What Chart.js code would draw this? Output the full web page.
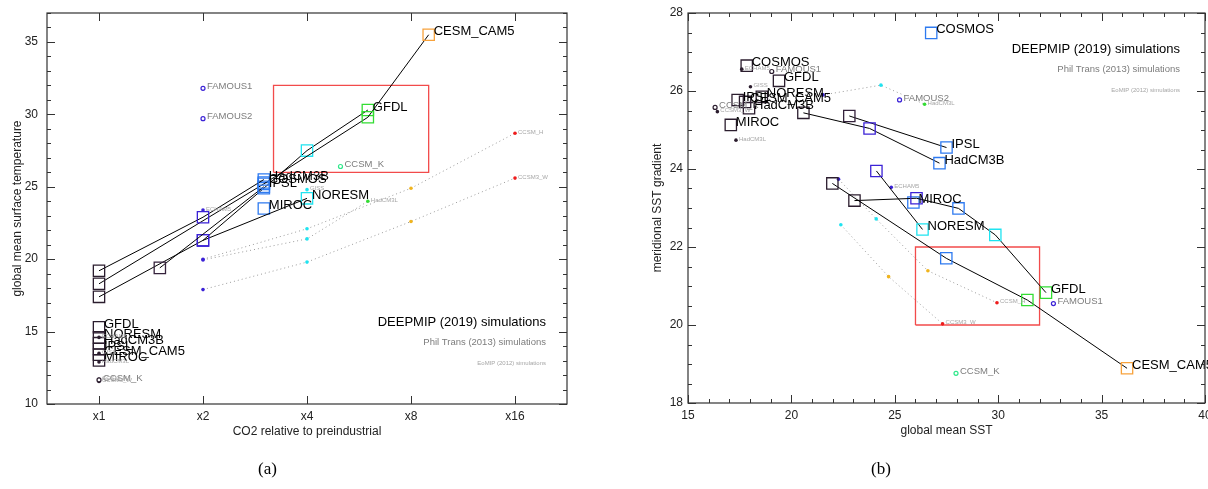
<!DOCTYPE html>
<html>
<head>
<meta charset="utf-8">
<script src="https://cdn.jsdelivr.net/npm/chart.js@4.4.1/dist/chart.umd.min.js"></script>
<style>
html, body { margin: 0; padding: 0; background: #fff; overflow: hidden; }
#wrap { position: relative; width: 1208px; height: 489px; overflow: hidden; }
canvas { position: absolute; top: 0; }
#chartA { left: 0; }
#chartB { left: 604px; }
.cap { position: absolute; top: 459px; font: 17px "Liberation Serif", "Times New Roman", serif; color: #000; }
</style>
</head>
<body>
<div id="wrap">
  <canvas id="chartA" width="604" height="489"></canvas>
  <canvas id="chartB" width="620" height="489"></canvas>
  <div class="cap" style="left:258px">(a)</div>
  <div class="cap" style="left:871px">(b)</div>
</div>
<script>
const FONT = '"Liberation Sans", Arial, Helvetica, sans-serif';

// ---------- panel (a): CO2 multiple vs global mean surface temperature ----------
const co2Ticks = [1, 2, 4, 8, 16];
const tempTicks = [10, 15, 20, 25, 30, 35];

// DeepMIP (2019) Eocene runs
const hadcm3bCO2 = [1, 2, 3];        const hadcm3bT = [19.2, 22.9, 25.5];
const cesmCO2    = [1, 3, 6, 9];     const cesmT    = [18.3, 25.2, 29.8, 35.5];
const gfdlCO2    = [1, 2, 3, 4, 6];  const gfdlT    = [17.4, 21.3, 24.9, 27.5, 30.3];
const ipslCO2    = [1.5, 3];         const ipslT    = [19.4, 25.0];
const noresmCO2  = [2, 4];           const noresmT  = [21.3, 24.2];
const mirocCO2   = [3];              const mirocT   = [23.5];
const cosmosCO2  = [3];              const cosmosT  = [25.3];

// DeepMIP preindustrial controls (all at x1)
const piNamesA = ['GFDL', 'NORESM', 'HadCM3B', 'IPSL', 'CESM_CAM5', 'MIROC'];
const piTempA  = [15.3, 14.6, 14.2, 13.8, 13.4, 13.0];

// Phil Trans (2013)
const philNamesA = ['FAMOUS1', 'FAMOUS2', 'CCSM_K', 'CCSM_K'];
const philCO2A   = [2, 2, 5, 1];
const philTempA  = [31.8, 29.7, 26.4, 11.66];

// EoMIP (2012)
const ccsmhCO2   = [2, 4, 8, 16];  const ccsmhT   = [20.0, 22.1, 24.9, 28.7];
const ccsm3wCO2  = [2, 4, 8, 16];  const ccsm3wT  = [17.9, 19.8, 22.6, 25.6];
const hadcm3lCO2 = [2, 4, 6];      const hadcm3lT = [19.95, 21.4, 24.0];
const eoPtNamesA = ['ECHAM5', 'GISS', 'CCSM_H', 'CCSM3_W', 'HadCM3L', 'ECHAM5', 'GISS'];
const eoPtCO2A   = [2, 4, 1, 1, 1, 1, 1];
const eoPtTempA  = [23.4, 24.8, 11.7, 11.55, 12.9, 14.6, 13.5];

// box of interest
const boxCO2 = [3.2, 9];
const boxT = [26, 32];

// ---------- panel (b): global mean SST vs meridional SST gradient ----------
const sstTicks = [15, 20, 25, 30, 35, 40];
const gradTicks = [18, 20, 22, 24, 26, 28];

// DeepMIP Eocene runs (lvl = CO2 multiple)
const hadcm3bSST = [20.58, 23.78, 27.16];            const hadcm3bGrad = [25.44, 25.04, 24.15];        const hadcm3bLvl = [1, 2, 3];
const ipslSST    = [22.8, 27.5];                     const ipslGrad    = [25.36, 24.55];               const ipslLvl    = [1.5, 3];
const cesmSST    = [21.98, 27.49, 31.41, 36.23];     const cesmGrad    = [23.63, 21.71, 20.64, 18.89]; const cesmLvl    = [1, 3, 6, 9];
const gfdlSST    = [23.05, 26.05, 28.08, 29.86, 32.31]; const gfdlGrad = [23.19, 23.25, 22.99, 22.31, 20.83]; const gfdlLvl = [1, 2, 3, 4, 6];
const noresmSST  = [24.11, 26.34];                   const noresmGrad  = [23.95, 22.45];               const noresmLvl  = [2, 4];
const mirocSST   = [25.9];                           const mirocGrad   = [23.14];                      const mirocLvl   = [3];
const cosmosSST  = [26.76];                          const cosmosGrad  = [27.49];                      const cosmosLvl  = [3];

// DeepMIP preindustrial controls
const piNamesB = ['COSMOS', 'GFDL', 'NORESM', 'IPSL', 'CESM_CAM5', 'HadCM3B', 'MIROC'];
const piSSTB   = [17.84, 19.4, 18.57, 17.4, 17.76, 17.95, 17.07];
const piGradB  = [26.65, 26.26, 25.85, 25.77, 25.72, 25.56, 25.13];

// Phil Trans (2013)
const philNamesB = ['FAMOUS1', 'FAMOUS1', 'FAMOUS2', 'CCSM_K', 'CCSM_K'];
const philSSTB   = [19.05, 32.67, 25.23, 27.96, 16.31];
const philGradB  = [26.5, 20.55, 25.77, 18.76, 25.58];
const philLvlB   = [1, 2, 2, 5, 1];

// EoMIP (2012)
const ccsmhSST   = [22.28, 24.1, 26.6, 29.94]; const ccsmhGrad   = [23.74, 22.72, 21.39, 20.57]; const ccsmhLvl   = [2, 4, 8, 16];
const ccsm3wSST  = [22.39, 24.7, 27.31];       const ccsm3wGrad  = [22.57, 21.24, 20.03];        const ccsm3wLvl  = [4, 8, 16];
const hadcm3lSST = [21.53, 24.33, 26.44];      const hadcm3lGrad = [25.9, 26.15, 25.66];         const hadcm3lLvl = [2, 4, 6];
const eoPtNamesB = ['ECHAM5', 'ECHAM5', 'GISS', 'HadCM3L', 'CCSM3_W'];
const eoPtSSTB   = [24.83, 17.6, 18.02, 17.32, 16.42];
const eoPtGradB  = [23.53, 26.56, 26.11, 24.74, 25.47];
const eoPtLvlB   = [2, 1, 1, 1, 1];

const boxSST = [26, 32];
const boxGrad = [20, 22];

// ---------- styling helpers ----------
const lvlColors = { 1: '#2b1d2e', 1.5: '#35223c', 2: '#3b22d6', 3: '#2e7af0', 4: '#1fe3f0',
                    5: '#2ee88a', 6: '#33dd33', 8: '#f0b41e', 9: '#f7a23c', 16: '#ee1c1c' };
const lvlColor = l => lvlColors[l];

const labelStyles = {
  deep: { font: '13px ' + FONT, color: '#000', dx: 5, dy: -3 },
  phil: { font: '9.5px ' + FONT, color: '#7c7c7c', dx: 4, dy: -2 },
  eo:   { font: '6px ' + FONT, color: '#a6a6a6', dx: 3, dy: -1 }
};

function pts(xs, ys) { return xs.map((v, i) => ({ x: v, y: ys[i] })); }
function range(a, b, s) { const r = []; for (let v = a; v <= b + 1e-9; v += s) r.push(+v.toFixed(2)); return r; }

// DeepMIP model: black connecting line + coloured open squares, name at the last point
function deepSet(xs, ys, lvls, name) {
  return {
    data: pts(xs, ys), showLine: true, borderColor: '#000', borderWidth: 1,
    pointStyle: 'rect', pointRadius: 8, pointBorderWidth: 1.3,
    pointBorderColor: lvls.map(lvlColor), pointBackgroundColor: 'rgba(0,0,0,0)',
    ptLabels: xs.map((v, i) => i === xs.length - 1 ? name : null), labelStyle: 'deep'
  };
}
function piSet(xs, ys, names) {
  return {
    data: pts(xs, ys), showLine: false,
    pointStyle: 'rect', pointRadius: 8, pointBorderWidth: 1.3,
    pointBorderColor: lvlColor(1), pointBackgroundColor: 'rgba(0,0,0,0)',
    ptLabels: names, labelStyle: 'deep'
  };
}
function philSet(xs, ys, lvls, names) {
  return {
    data: pts(xs, ys), showLine: false, pointStyle: 'circle', pointRadius: 2,
    pointBorderWidth: 1.2, pointBorderColor: lvls.map(lvlColor), pointBackgroundColor: '#fff',
    ptLabels: names, labelStyle: 'phil'
  };
}
function eoLine(xs, ys, lvls, name) {
  return {
    data: pts(xs, ys), showLine: true, borderColor: '#9a9a9a', borderWidth: 1, borderDash: [1, 3],
    pointStyle: 'circle', pointRadius: 1.8, pointBorderWidth: 0,
    pointBackgroundColor: lvls.map(lvlColor),
    ptLabels: xs.map((v, i) => i === xs.length - 1 ? name : null), labelStyle: 'eo'
  };
}
function eoPts(xs, ys, lvls, names) {
  return {
    data: pts(xs, ys), showLine: false, pointStyle: 'circle', pointRadius: 1.8, pointBorderWidth: 0,
    pointBackgroundColor: lvls.map(lvlColor), ptLabels: names, labelStyle: 'eo'
  };
}
function boxSet(xr, yr) {
  return {
    data: [{ x: xr[0], y: yr[0] }, { x: xr[1], y: yr[0] }, { x: xr[1], y: yr[1] }, { x: xr[0], y: yr[1] }, { x: xr[0], y: yr[0] }],
    showLine: true, borderColor: '#f24b4b', borderWidth: 1.3, pointRadius: 0
  };
}

// text next to points
const pointLabels = {
  id: 'pointLabels',
  afterDatasetsDraw(chart) {
    const ctx = chart.ctx;
    chart.data.datasets.forEach((ds, di) => {
      if (!ds.ptLabels) return;
      const st = labelStyles[ds.labelStyle];
      const meta = chart.getDatasetMeta(di);
      ctx.save();
      ctx.font = st.font; ctx.fillStyle = st.color;
      ctx.textBaseline = 'middle'; ctx.textAlign = 'left';
      meta.data.forEach((p, i) => {
        if (ds.ptLabels[i]) ctx.fillText(ds.ptLabels[i], p.x + st.dx, p.y + st.dy);
      });
      ctx.restore();
    });
  }
};

// closed frame with inward ticks on all four sides
const boxTicks = {
  id: 'boxTicks',
  afterDraw(chart, args, o) {
    const { ctx, chartArea: a, scales: { x, y } } = chart;
    ctx.save();
    ctx.strokeStyle = '#333'; ctx.lineWidth = 1.2;
    ctx.strokeRect(a.left, a.top, a.right - a.left, a.bottom - a.top);
    ctx.lineWidth = 1;
    const seg = (x1, y1, x2, y2) => { ctx.beginPath(); ctx.moveTo(x1, y1); ctx.lineTo(x2, y2); ctx.stroke(); };
    const xt = (v, len) => { const px = Math.round(x.getPixelForValue(v)) + 0.5; seg(px, a.bottom, px, a.bottom - len); seg(px, a.top, px, a.top + len); };
    const yt = (v, len) => { const py = Math.round(y.getPixelForValue(v)) + 0.5; seg(a.left, py, a.left + len, py); seg(a.right, py, a.right - len, py); };
    o.xMinor.forEach(v => xt(v, o.minLen));
    o.xMajor.forEach(v => xt(v, o.majLen));
    o.yMinor.forEach(v => yt(v, o.minLen));
    o.yMajor.forEach(v => yt(v, o.majLen));
    ctx.restore();
  }
};

// the three-line key of simulation families
const keyText = {
  id: 'keyText',
  afterDraw(chart, args, o) {
    const ctx = chart.ctx;
    ctx.save();
    ctx.textAlign = 'right'; ctx.textBaseline = 'middle';
    const rx = chart.chartArea.right - o.right;
    ctx.font = '13px ' + FONT; ctx.fillStyle = '#000';
    ctx.fillText('DEEPMIP (2019) simulations', rx, o.top);
    ctx.font = '9.5px ' + FONT; ctx.fillStyle = '#7c7c7c';
    ctx.fillText('Phil Trans (2013) simulations', rx, o.top + 20.5);
    ctx.font = '6px ' + FONT; ctx.fillStyle = '#a6a6a6';
    ctx.fillText('EoMIP (2012) simulations', rx, o.top + 41);
    ctx.restore();
  }
};

function axisOpts(min, max, ticks, fmt, title, isX, size, tickPad, titlePad) {
  return {
    type: 'linear', min: min, max: max,
    grid: { display: false, drawTicks: false }, border: { display: false },
    afterBuildTicks: s => { s.ticks = ticks.map(v => ({ value: v })); },
    ticks: { color: '#222', padding: tickPad, font: { family: FONT, size: 12 }, maxRotation: 0, autoSkip: false, callback: fmt },
    title: { display: true, text: title, color: '#222', font: { family: FONT, size: 12 }, padding: titlePad },
    afterFit: s => {
      if (isX) { s.height = size; s.paddingLeft = 0; s.paddingRight = 0; }
      else { s.width = size; s.paddingTop = 0; s.paddingBottom = 0; }
    }
  };
}

const common = {
  responsive: false, animation: false, events: [],
  plugins: { legend: { display: false }, tooltip: { enabled: false } },
  elements: { line: { tension: 0 } }
};

const L = Math.log2;
const lg = arr => arr.map(v => L(v));

// ---------- chart (a) ----------
new Chart(document.getElementById('chartA'), {
  type: 'scatter',
  data: {
    datasets: [
      deepSet(lg(hadcm3bCO2), hadcm3bT, hadcm3bCO2, 'HadCM3B'),
      deepSet(lg(cosmosCO2), cosmosT, cosmosCO2, 'COSMOS'),
      deepSet(lg(ipslCO2), ipslT, ipslCO2, 'IPSL'),
      deepSet(lg(cesmCO2), cesmT, cesmCO2, 'CESM_CAM5'),
      deepSet(lg(gfdlCO2), gfdlT, gfdlCO2, 'GFDL'),
      deepSet(lg(noresmCO2), noresmT, noresmCO2, 'NORESM'),
      deepSet(lg(mirocCO2), mirocT, mirocCO2, 'MIROC'),
      piSet(piTempA.map(() => 0), piTempA, piNamesA),
      philSet(lg(philCO2A), philTempA, philCO2A, philNamesA),
      eoLine(lg(ccsmhCO2), ccsmhT, ccsmhCO2, 'CCSM_H'),
      eoLine(lg(ccsm3wCO2), ccsm3wT, ccsm3wCO2, 'CCSM3_W'),
      eoLine(lg(hadcm3lCO2), hadcm3lT, hadcm3lCO2, 'HadCM3L'),
      eoPts(lg(eoPtCO2A), eoPtTempA, eoPtCO2A, eoPtNamesA),
      boxSet(lg(boxCO2), boxT)
    ]
  },
  options: Object.assign({}, common, {
    layout: { padding: { left: 0, right: 37, top: 13, bottom: 47 } },
    scales: {
      x: axisOpts(-0.5, 4.5, lg(co2Ticks), v => 'x' + Math.round(Math.pow(2, v)),
                  'CO2 relative to preindustrial', true, 38, 5, { top: 0, bottom: 3 }),
      y: axisOpts(10, 37, tempTicks, v => v, 'global mean surface temperature', false, 47, 9, { top: 10, bottom: 0 })
    },
    plugins: Object.assign({}, common.plugins, {
      boxTicks: { xMajor: lg(co2Ticks), xMinor: [], yMajor: tempTicks, yMinor: range(10, 37, 1), majLen: 8, minLen: 4 },
      keyText: { right: 21, top: 322 }
    })
  }),
  plugins: [pointLabels, boxTicks, keyText]
});

// ---------- chart (b) ----------
// canvas is 16px wider than the visible half so the "40" label runs off the page edge
new Chart(document.getElementById('chartB'), {
  type: 'scatter',
  data: {
    datasets: [
      deepSet(hadcm3bSST, hadcm3bGrad, hadcm3bLvl, 'HadCM3B'),
      deepSet(ipslSST, ipslGrad, ipslLvl, 'IPSL'),
      deepSet(cesmSST, cesmGrad, cesmLvl, 'CESM_CAM5'),
      deepSet(gfdlSST, gfdlGrad, gfdlLvl, 'GFDL'),
      deepSet(noresmSST, noresmGrad, noresmLvl, 'NORESM'),
      deepSet(mirocSST, mirocGrad, mirocLvl, 'MIROC'),
      deepSet(cosmosSST, cosmosGrad, cosmosLvl, 'COSMOS'),
      piSet(piSSTB, piGradB, piNamesB),
      philSet(philSSTB, philGradB, philLvlB, philNamesB),
      eoLine(ccsmhSST, ccsmhGrad, ccsmhLvl, 'CCSM_H'),
      eoLine(ccsm3wSST, ccsm3wGrad, ccsm3wLvl, 'CCSM3_W'),
      eoLine(hadcm3lSST, hadcm3lGrad, hadcm3lLvl, 'HadCM3L'),
      eoPts(eoPtSSTB, eoPtGradB, eoPtLvlB, eoPtNamesB),
      boxSet(boxSST, boxGrad)
    ]
  },
  options: Object.assign({}, common, {
    layout: { padding: { left: 40, right: 19, top: 13, bottom: 48 } },
    scales: {
      x: axisOpts(15, 40, sstTicks, v => v, 'global mean SST', true, 38, 5, { top: 0, bottom: 3 }),
      y: axisOpts(18, 28, gradTicks, v => v, 'meridional SST gradient', false, 44, 5, { top: 6, bottom: 0 })
    },
    plugins: Object.assign({}, common.plugins, {
      boxTicks: { xMajor: sstTicks, xMinor: range(15, 40, 1), yMajor: gradTicks, yMinor: range(18, 28, 0.5), majLen: 8, minLen: 4 },
      keyText: { right: 25, top: 49 }
    })
  }),
  plugins: [pointLabels, boxTicks, keyText]
});
</script>
</body>
</html>
